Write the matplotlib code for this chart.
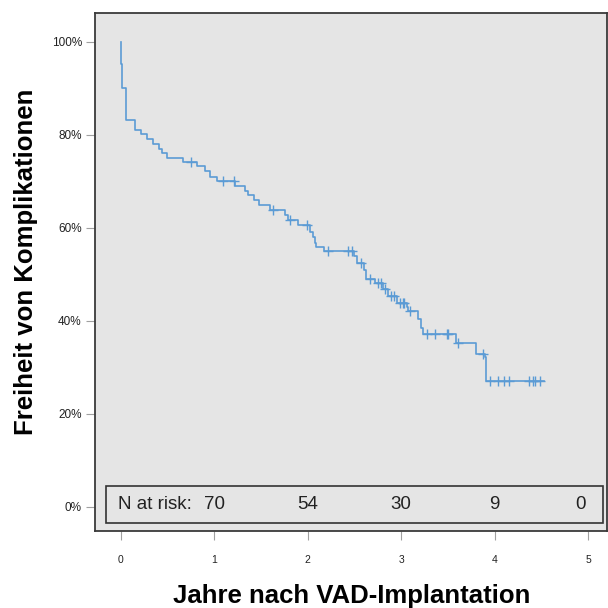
import numpy as np
import matplotlib
matplotlib.use('Agg')
import matplotlib.pyplot as plt
from matplotlib.patches import Rectangle

plt.rcParams['font.family'] = ['Liberation Sans', 'DejaVu Sans']

# Kaplan-Meier Stufen (Jahre, Freiheit in %)
event_t = [0.003, 0.01, 0.05, 0.15, 0.21, 0.275, 0.346, 0.41, 0.436, 0.496,
           0.66, 0.81, 0.90, 0.955, 1.025, 1.22, 1.33, 1.36, 1.42, 1.48,
           1.60, 1.76, 1.79, 1.90, 2.02, 2.06, 2.08, 2.09, 2.17, 2.49,
           2.53, 2.60, 2.62, 2.72, 2.81, 2.86, 2.95, 3.06, 3.07, 3.18,
           3.21, 3.23, 3.59, 3.80, 3.90, 3.91]
event_s = [95.3, 90.1, 83.2, 81.0, 80.1, 79.1, 78.0, 76.9, 76.1, 75.1,
           74.2, 73.2, 72.1, 71.0, 70.1, 69.0, 68.0, 67.1, 66.0, 64.9,
           63.8, 62.7, 61.7, 60.6, 59.1, 58.1, 56.8, 55.9, 55.0, 54.0,
           52.5, 50.8, 49.0, 48.0, 46.8, 45.4, 43.9, 42.9, 42.0, 40.4,
           38.4, 37.1, 35.1, 32.8, 32.1, 27.1]
# zensierte Beobachtungen
censor_t = [0.75, 1.09, 1.21, 1.63, 1.81, 1.99, 2.22, 2.43, 2.47, 2.57,
            2.67, 2.75, 2.78, 2.83, 2.89, 2.92, 2.99, 3.02, 3.03, 3.09,
            3.28, 3.36, 3.49, 3.50, 3.61, 3.88, 3.95, 4.04, 4.10, 4.15,
            4.37, 4.41, 4.43, 4.49]
t_end = 4.53

risk_t = [1, 2, 3, 4, 4.92]
risk_n = [70, 54, 30, 9, 0]

x_ticks = [0, 1, 2, 3, 4, 5]
y_ticks = [0, 20, 40, 60, 80, 100]
y_ticklabels = ['0%', '20%', '40%', '60%', '80%', '100%']

blue = '#5b9bd5'

fig = plt.figure(figsize=(6.08, 6.08), dpi=100)
ax = fig.add_axes([95 / 608, 1 - 531 / 608, 512 / 608, 518 / 608])
ax.set_facecolor('#e5e5e5')

xs = [0] + event_t + [t_end]
ys = [100] + event_s + [event_s[-1]]
ax.plot(xs, ys, drawstyle='steps-post', color=blue, lw=1.2)

idx = np.searchsorted(event_t, censor_t, side='right') - 1
cs = np.array(event_s)[idx]
ax.plot(censor_t, cs, '+', ms=6.5, mew=1.0, color=blue, ls='none')

ax.set_xlim(-0.278, 5.203)
ax.set_ylim(-5.27, 106.2)
ax.set_xticks(x_ticks)
ax.set_yticks(y_ticks)
ax.set_yticklabels(y_ticklabels)
ax.tick_params(axis='both', direction='out', length=6.5, width=0.8,
               color='#a0a0a0', labelcolor='#222222')
ax.tick_params(axis='x', pad=11, labelsize=7.5)
ax.tick_params(axis='y', pad=3, labelsize=8.5)
for sp in ax.spines.values():
	sp.set_color('#3a3a3a')
	sp.set_linewidth(1.3)

# N at risk Kasten
ax.add_patch(Rectangle((0.021, 0.016), 0.9706, 0.0715, transform=ax.transAxes,
                       fill=False, edgecolor='#333333', lw=1.2))
ax.text(-0.03, 0.052, 'N at risk:', transform=ax.get_xaxis_transform(),
        ha='left', va='center', fontsize=13.5, color='#222222')
for t, n in zip(risk_t, risk_n):
	ax.text(t, 0.052, str(n), transform=ax.get_xaxis_transform(),
	        ha='center', va='center', fontsize=13.5, color='#222222')

fig.text(352 / 608, 1 - 596 / 608, 'Jahre nach VAD-Implantation',
         ha='center', va='center', fontsize=18.5, fontweight='bold')
fig.text(26 / 608, 1 - 262 / 608, 'Freiheit von Komplikationen',
         ha='center', va='center', rotation=90, fontsize=18.5, fontweight='bold')

fig.savefig('out.png', dpi=100, facecolor='white')
